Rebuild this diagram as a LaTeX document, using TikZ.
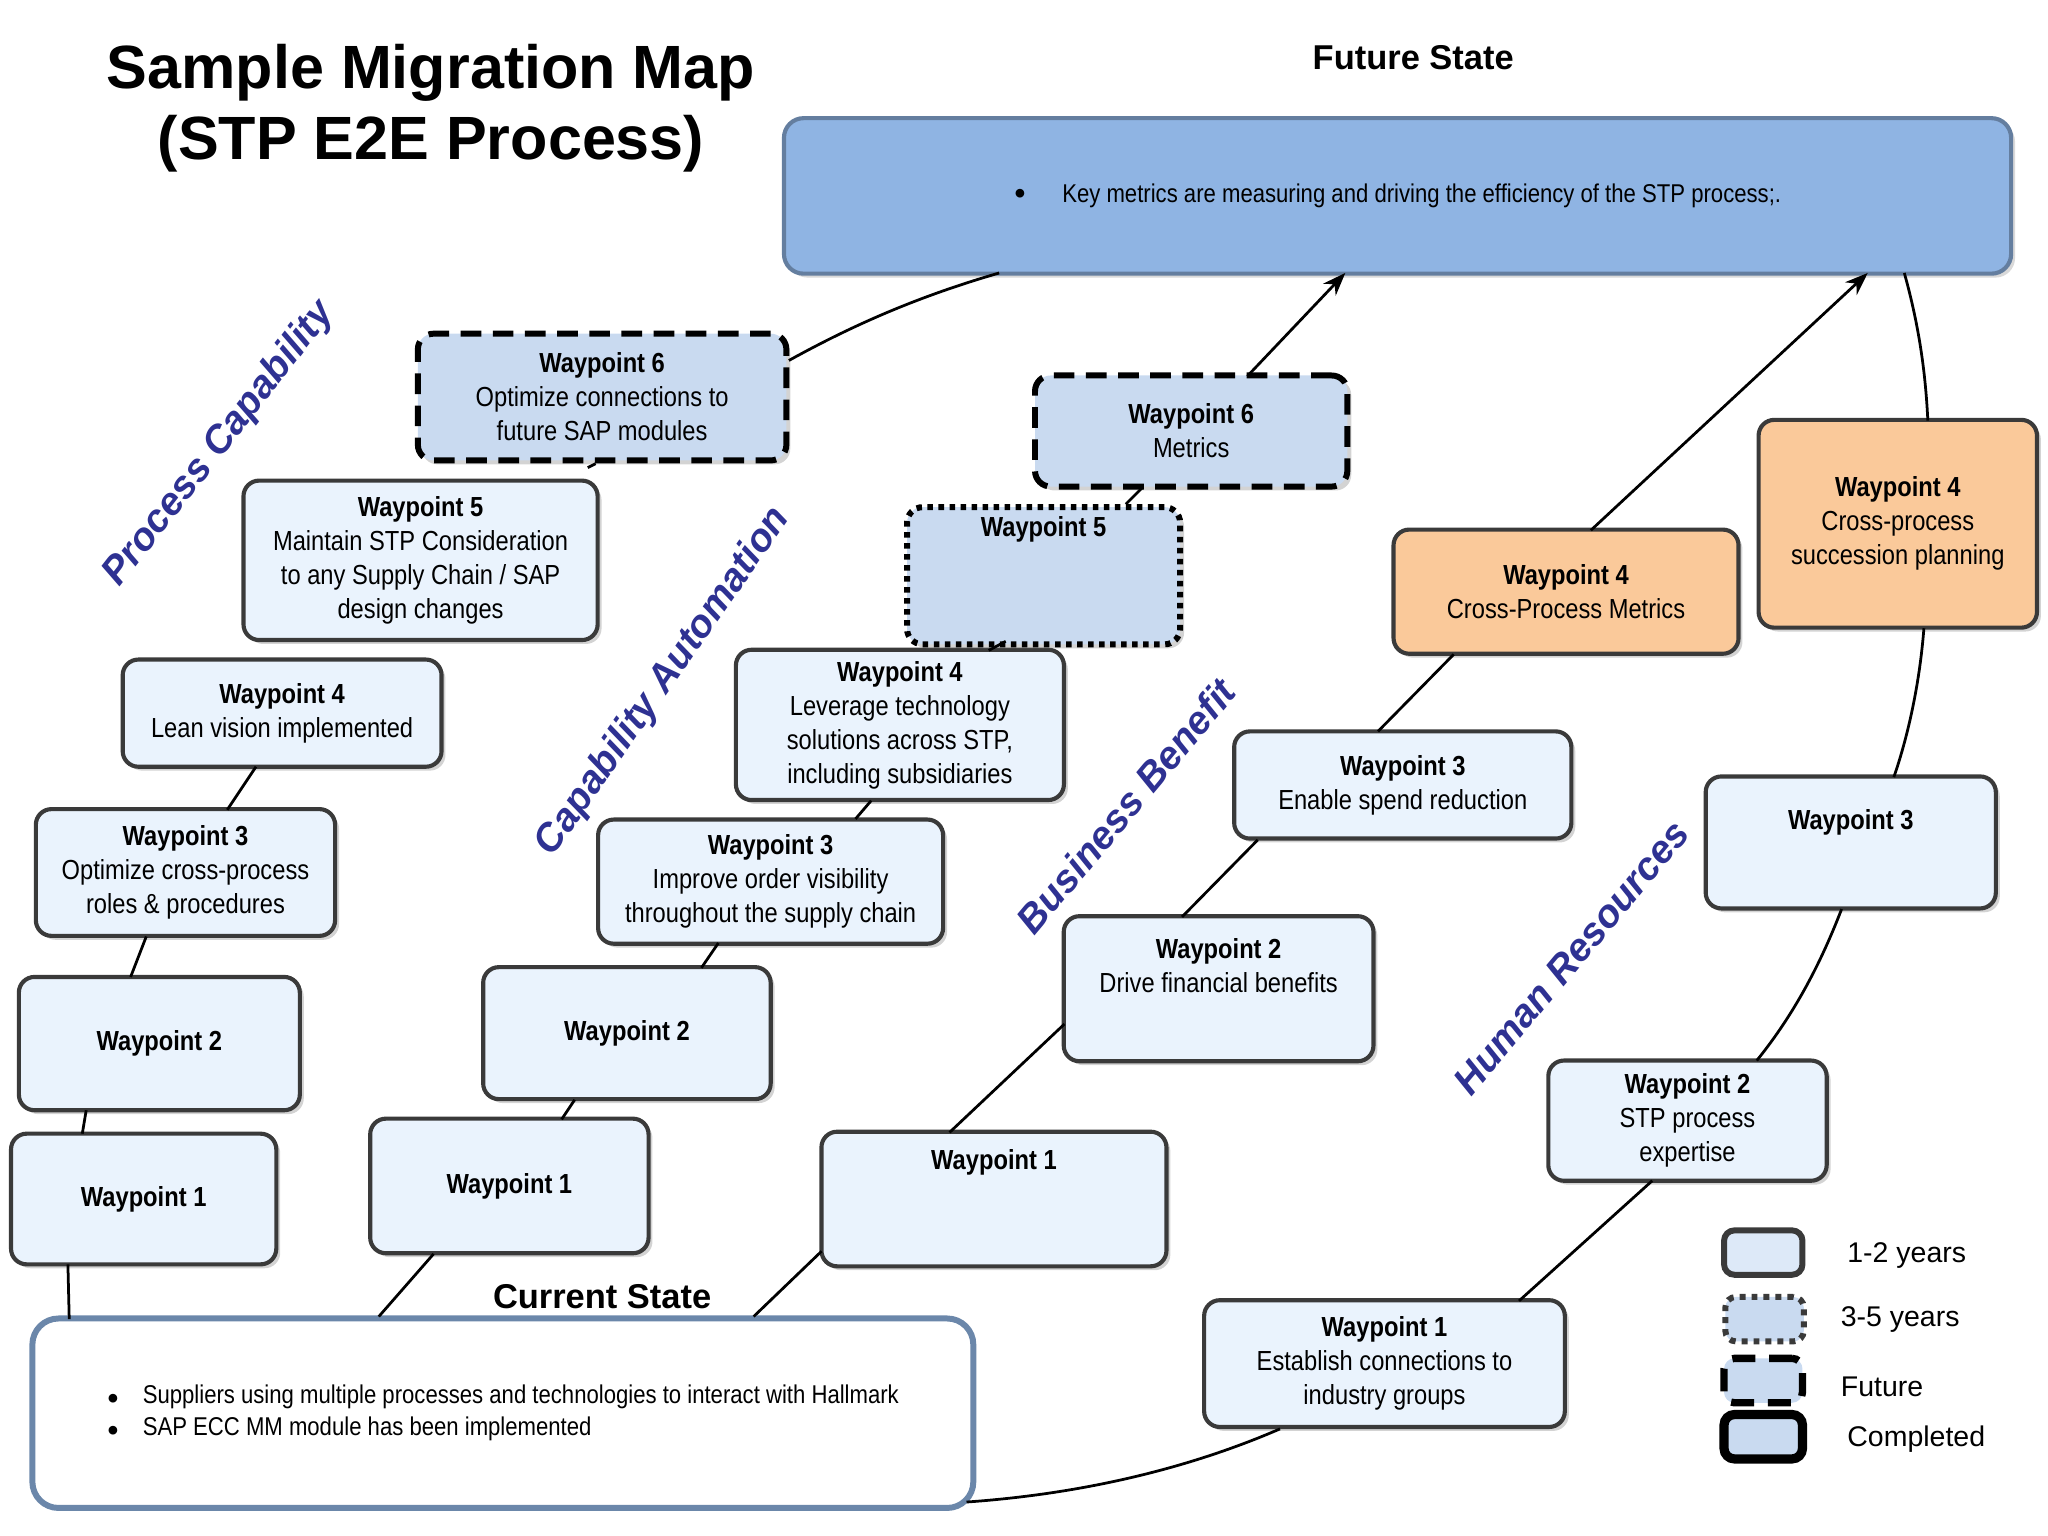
\documentclass[tikz,border=0pt]{standalone}
\usepackage{fontspec}
\setmainfont{Liberation Sans}[FakeStretch=0.86]
\newfontfamily\wide{Liberation Sans}
\usetikzlibrary{shadows,arrows.meta}
\definecolor{boxfill}{HTML}{EAF3FD}
\definecolor{dashfill}{HTML}{C9DAF0}
\definecolor{orng}{HTML}{FAC99A}
\definecolor{topfill}{HTML}{8FB4E3}
\definecolor{lbl}{HTML}{2E3192}
\definecolor{bord}{HTML}{3A3A3A}
\tikzset{
 wp/.style={draw=bord, line width=0.9pt, rounded corners=0.12cm, fill=boxfill, align=center,
   font=\fontsize{6}{7.4}\selectfont, inner sep=1pt, drop shadow={shadow xshift=0.03cm,shadow yshift=-0.03cm,opacity=0.35}},
 fut/.style={wp, draw=black, fill=dashfill, dash pattern=on 4.5pt off 2.5pt, line width=1.3pt},
 dot/.style={wp, draw=black, fill=dashfill, dash pattern=on 1.2pt off 1.2pt, line width=1.3pt},
 org/.style={wp, fill=orng},
 con/.style={line width=0.6pt, black},
 lab/.style={font=\wide\bfseries\itshape\fontsize{8.5}{10}\selectfont, text=lbl},
}
\begin{document}
\begin{tikzpicture}[x=0.01cm,y=-0.01cm]
\useasboundingbox (0,0) rectangle (1568,1176);
% title
\node[font=\wide\bfseries\fontsize{13.3}{15.5}\selectfont, align=center] (title) at (330,83) {Sample Migration Map\\(STP E2E Process)};
\node[font=\wide\bfseries\fontsize{7.5}{9}\selectfont] (fs) at (1082,44) {Future State};
\node[draw=topfill!70!black, line width=0.9pt, fill=topfill, rounded corners=0.15cm, minimum width=9.39cm, minimum height=1.19cm, font=\fontsize{5.6}{7}\selectfont,
 drop shadow={shadow xshift=0.03cm,shadow yshift=-0.03cm,opacity=0.3}] (future) at (1070,150) {\raisebox{0.3ex}{\scalebox{0.7}{$\bullet$}}\hspace{1.4em}Key metrics are measuring and driving the efficiency of the STP process;.};
\node[font=\wide\bfseries\fontsize{7.5}{9}\selectfont] (cs) at (461,993) {Current State};
\node[draw=topfill!75!black, line width=1.3pt, fill=white, rounded corners=0.2cm, minimum width=7.2cm, minimum height=1.45cm, align=left, font=\fontsize{5.6}{7}\selectfont] (current) at (385,1082)
 {\makebox[1.4em][l]{\scalebox{0.7}{$\bullet$}}Suppliers using multiple processes and technologies to interact with Hallmark\hspace{4em}\\ \makebox[1.4em][l]{\scalebox{0.7}{$\bullet$}}SAP ECC MM module has been implemented};

% column 1
\node[wp, minimum width=2.03cm, minimum height=1.0cm] (a1) at (110,918) {\textbf{Waypoint 1}};
\node[wp, minimum width=2.15cm, minimum height=1.02cm] (a2) at (122,799) {\textbf{Waypoint 2}};
\node[wp, minimum width=2.29cm, minimum height=0.97cm] (a3) at (142,668) {\textbf{Waypoint 3}\\Optimize cross-process\\roles \& procedures};
\node[wp, minimum width=2.44cm, minimum height=0.82cm] (a4) at (216,546) {\textbf{Waypoint 4}\\Lean vision implemented};
\node[wp, minimum width=2.71cm, minimum height=1.22cm] (a5) at (322,429) {\textbf{Waypoint 5}\\Maintain STP Consideration\\to any Supply Chain / SAP\\design changes};
\node[fut, minimum width=2.82cm, minimum height=0.97cm] (a6) at (461,304) {\textbf{Waypoint 6}\\Optimize connections to\\future SAP modules};
% column 2
\node[wp, minimum width=2.13cm, minimum height=1.03cm] (b1) at (390,908) {\textbf{Waypoint 1}};
\node[wp, minimum width=2.2cm, minimum height=1.01cm] (b2) at (480,791) {\textbf{Waypoint 2}};
\node[wp, minimum width=2.64cm, minimum height=0.95cm] (b3) at (590,675) {\textbf{Waypoint 3}\\Improve order visibility\\throughout the supply chain};
\node[wp, minimum width=2.51cm, minimum height=1.15cm] (b4) at (689,555) {\textbf{Waypoint 4}\\Leverage technology\\solutions across STP,\\including subsidiaries};
\node[dot, minimum width=2.09cm, minimum height=1.05cm, anchor=north, text depth=0.75cm] (b5) at (799,386) {\textbf{Waypoint 5}};
\node[fut, minimum width=2.39cm, minimum height=0.85cm] (b6) at (912,330) {\textbf{Waypoint 6}\\Metrics};
% column 3
\node[wp, minimum width=2.64cm, minimum height=1.03cm, text depth=0.6cm] (c1) at (761,918) {\textbf{Waypoint 1}};
\node[wp, minimum width=2.37cm, minimum height=1.11cm, text depth=0.35cm] (c2) at (933,757) {\textbf{Waypoint 2}\\Drive financial benefits};
\node[wp, minimum width=2.58cm, minimum height=0.82cm] (c3) at (1074,601) {\textbf{Waypoint 3}\\Enable spend reduction};
\node[org, minimum width=2.64cm, minimum height=0.95cm] (c4) at (1199,453) {\textbf{Waypoint 4}\\Cross-Process Metrics};
% column 4
\node[wp, minimum width=2.76cm, minimum height=0.97cm] (d1) at (1060,1044) {\textbf{Waypoint 1}\\Establish connections to\\industry groups};
\node[wp, minimum width=2.13cm, minimum height=0.92cm] (d2) at (1292,858) {\textbf{Waypoint 2}\\STP process\\expertise};
\node[wp, minimum width=2.22cm, minimum height=1.01cm, text depth=0.35cm] (d3) at (1417,645) {\textbf{Waypoint 3}};
\node[org, minimum width=2.13cm, minimum height=1.59cm] (d4) at (1453,401) {\textbf{Waypoint 4}\\Cross-process\\succession planning};

% labels
\node[lab, rotate=52] (l1) at (168,340) {Process Capability};
\node[lab, rotate=55] (l2) at (508,522) {Capability Automation};
\node[lab, rotate=50] (l3) at (862,617) {Business Benefit};
\node[lab, rotate=50] (l4) at (1203,733) {Human Resources};

% connectors
\coordinate (p1) at (53,1010); \draw[con] (p1) -- (52,968);
\draw[con] (63,868) -- (66,850);
\draw[con] (100,748) -- (112,717);
\draw[con] (174,620) -- (196,587);
\draw[con] (450,358) -- (456,355);
\draw[con] (604,276) .. controls (660,245) and (710,225) .. (765,209);
\draw[con] (290,1008) -- (332,960);
\draw[con] (430,857) -- (440,842);
\draw[con] (537,741) -- (550,722);
\draw[con] (655,627) -- (667,613);
\draw[con] (757,498) -- (770,491);
\draw[con] (862,386) -- (875,373);
\draw[con,-{Stealth[length=5pt]}] (955,288) -- (1030,209);
\draw[con] (577,1008) -- (629,958);
\draw[con] (727,867) -- (815,784);
\draw[con] (905,702) -- (963,643);
\draw[con] (1055,560) -- (1113,501);
\draw[con,-{Stealth[length=5pt]}] (1218,406) -- (1430,209);
\draw[con] (740,1150) .. controls (840,1143) and (920,1120) .. (980,1094);
\draw[con] (1163,996) -- (1265,904);
\draw[con] (1345,812) .. controls (1375,775) and (1395,735) .. (1410,696);
\draw[con] (1450,595) .. controls (1462,560) and (1470,520) .. (1473,481);
\draw[con] (1476,322) .. controls (1474,280) and (1468,245) .. (1458,209);

% legend
\tikzset{lg/.style={rounded corners=0.08cm, minimum width=0.6cm, minimum height=0.34cm, fill=dashfill}}
\node[lg, draw=bord, line width=1.3pt, fill=boxfill!60!dashfill] (g1) at (1350,959) {};
\node[lg, draw=bord, line width=1.3pt, dash pattern=on 1.3pt off 1.3pt] (g2) at (1351,1010) {};
\node[lg, draw=black, line width=1.6pt, dash pattern=on 5pt off 3pt] (g3) at (1350,1057) {};
\node[lg, draw=black, line width=2pt] (g4) at (1350,1100) {};
\tikzset{lt/.style={anchor=west, font=\wide\fontsize{6.2}{8}\selectfont}}
\node[lt] at (1402,961) {1-2 years};
\node[lt] at (1397,1010) {3-5 years};
\node[lt] at (1397,1062) {Future};
\node[lt] at (1402,1102) {Completed};
\end{tikzpicture}
\end{document}
